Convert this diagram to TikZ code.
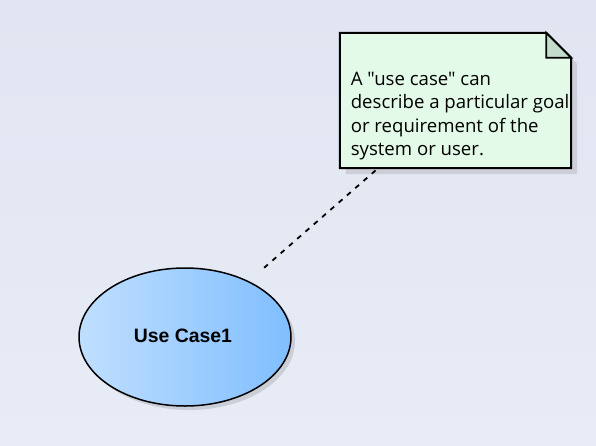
\documentclass[tikz,border=0pt]{standalone}
\usepackage{fontspec}
\setmainfont{Open Sans}[Ligatures=TeXOff]
\newfontfamily\ucfont{Liberation Sans}
\definecolor{bgtop}{HTML}{E1E5F1}
\definecolor{bgbot}{HTML}{E8ECF6}
\definecolor{notefill}{HTML}{E3FAE8}
\definecolor{foldfill}{HTML}{C4DCCC}
\definecolor{shadowc}{HTML}{CDCED8}
\definecolor{ucleft}{HTML}{C0DFFF}
\definecolor{ucright}{HTML}{80BEFF}
\tikzset{
  notebox/.style={rectangle, draw=none, inner sep=0pt, minimum width=231pt, minimum height=135pt},
  notetext/.style={anchor=north west, inner sep=0pt, align=left, font=\fontsize{18.6}{23.4}\selectfont},
  ucbox/.style={rectangle, draw=none, inner sep=0pt, minimum width=212pt, minimum height=138pt},
  uctext/.style={inner sep=0pt, font=\ucfont\bfseries\fontsize{19.4}{23}\selectfont},
  outline/.style={draw=black, line width=2pt, line join=miter},
  anchorline/.style={draw=black, line width=1.8pt, dash pattern=on 5pt off 6pt}
}
\begin{document}
\begin{tikzpicture}[x=1pt,y=-1pt]
\useasboundingbox (0,0) rectangle (596,445);
\shade[top color=bgtop, bottom color=bgbot] (0,0) rectangle (596,445);

% note
\node[notebox] (note) at (455.5,100.5) {};
\fill[shadowc] ([shift={(6,6)}]note.north west) -- ([shift={(-19,6)}]note.north east) -- ([shift={(6,31)}]note.north east) -- ([shift={(6,6)}]note.south east) -- ([shift={(6,6)}]note.south west) -- cycle;
\path[outline, fill=notefill] (note.north west) -- ([shift={(-25,0)}]note.north east) -- ([shift={(0,25)}]note.north east) -- (note.south east) -- (note.south west) -- cycle;
\path[outline, fill=foldfill, line width=1.8pt] ([shift={(-25,0)}]note.north east) -- ([shift={(0,25)}]note.north east) -- ([shift={(-25,25)}]note.north east) -- cycle;
\node[notetext] (notetxt) at (350.6,72) {A "use case" can\\describe a particular goal\\or requirement of the\\system or user.};

% use case
\node[ucbox] (uc) at (185,337) {};
\fill[black, opacity=0.12] ([shift={(4,4)}]uc.center) ellipse [x radius=106, y radius=69];
\path[left color=ucleft, right color=ucright, draw=black, line width=1.5pt] (uc.center) ellipse [x radius=106, y radius=69];
\node[uctext] (uclabel) at (183,335.5) {Use Case1};

% connector
\draw[anchorline] (uc) -- (note);
\end{tikzpicture}
\end{document}
